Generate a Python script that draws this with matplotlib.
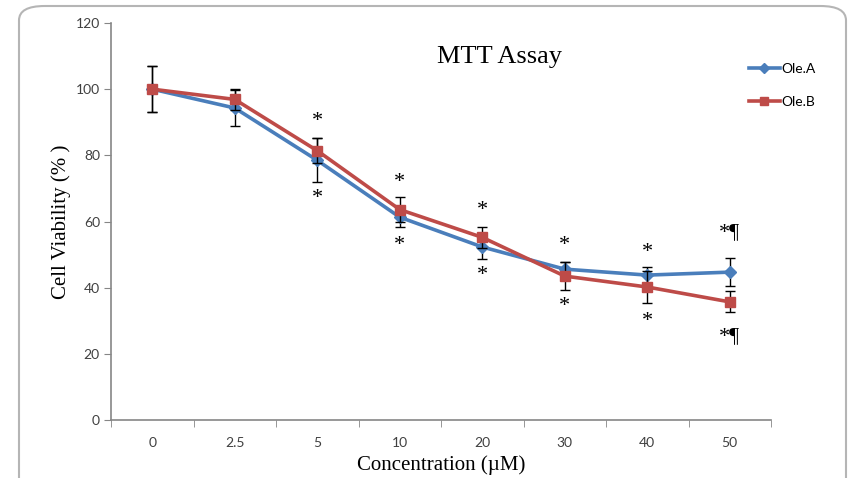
import numpy as np
import matplotlib.pyplot as plt
from matplotlib.patches import FancyBboxPatch
from matplotlib.lines import Line2D

# values
conc = ['0', '2.5', '5', '10', '20', '30', '40', '50']
ole_a = [100, 94.3, 78.5, 61.3, 52.3, 45.6, 43.8, 44.7]
ole_a_err = [7, 5.5, 6.6, 3.0, 3.7, 2.1, 2.5, 4.3]
ole_b = [100, 96.9, 81.4, 63.6, 55.2, 43.5, 40.2, 35.7]
ole_b_err = [7, 3.2, 3.8, 3.7, 3.1, 4.3, 4.8, 3.2]

# significance marks: (category index, y value, text)
marks_above = [(2, 90.2, '*'), (3, 71.8, '*'), (4, 63.4, '*'), (5, 52.6, '*'),
               (6, 50.5, '*'), (7, 56.5, '*¶')]
marks_below = [(2, 67.0, '*'), (3, 52.6, '*'), (4, 43.6, '*'), (5, 34.3, '*'),
               (6, 29.8, '*'), (7, 25.2, '*¶')]

blue = '#4A7EBB'
red = '#BE4B48'
grey = '#868686'

fig = plt.figure(figsize=(8.56, 4.78), dpi=100)
ax = fig.add_axes([0.1297, 0.1213, 0.771, 0.8306])

# rounded frame around the whole picture
frame = FancyBboxPatch((19 / 856, -0.1), (846 - 19) / 856, 1.1 - 6 / 478,
                       boxstyle='round,pad=0,rounding_size=0.03',
                       transform=fig.transFigure, fill=False,
                       edgecolor='#b5b5b5', linewidth=1.5, zorder=0)
fig.patches.append(frame)

x = np.arange(len(conc))
ax.errorbar(x, ole_a, yerr=ole_a_err, color=blue, lw=2.6, marker='D', ms=6.5,
            ecolor='black', elinewidth=1, capsize=3.5, capthick=1, zorder=3)
ax.errorbar(x, ole_b, yerr=ole_b_err, color=red, lw=2.6, marker='s', ms=7,
            ecolor='black', elinewidth=1, capsize=3.5, capthick=1, zorder=4)

for i, y, t in marks_above + marks_below:
    ax.text(i, y, t, ha='center', va='center', fontsize=16,
            family=['Liberation Serif', 'DejaVu Serif'])

ax.set_xlim(-0.5, len(conc) - 0.5)
ax.set_ylim(0, 120)
ax.set_yticks(range(0, 121, 20))
ax.set_xticks(x)
ax.set_xticklabels(conc)
ax.set_xticks(np.arange(-0.5, len(conc)), minor=True)
ax.tick_params(axis='x', which='major', length=0, pad=12)
ax.tick_params(axis='x', which='minor', length=5, color=grey)
ax.tick_params(axis='y', length=5, color=grey, pad=3)
for lab in ax.get_xticklabels() + ax.get_yticklabels():
    lab.set_family('Lato')
    lab.set_fontsize(10)
    lab.set_color('#404040')

for s in ['top', 'right']:
    ax.spines[s].set_visible(False)
for s in ['left', 'bottom']:
    ax.spines[s].set_color(grey)
    ax.spines[s].set_linewidth(1.2)

ax.set_xlabel('Concentration (µM)', fontsize=15, family='Liberation Serif', labelpad=5)
ax.set_ylabel('Cell Viability (% )', fontsize=15, family='Liberation Serif', labelpad=3)
ax.text(0.588, 0.915, 'MTT Assay', transform=ax.transAxes, ha='center', va='center',
        fontsize=19, family='Liberation Serif')

handles = [Line2D([], [], color=blue, lw=2.6, marker='D', ms=5),
           Line2D([], [], color=red, lw=2.6, marker='s', ms=6)]
ax.legend(handles, ['Ole.A', 'Ole.B'], loc='upper left', bbox_to_anchor=(0.948, 0.93),
          frameon=False, handlelength=2.2, handletextpad=0.1, labelspacing=1.5,
          prop={'family': 'Lato', 'size': 10})

fig.savefig('out.png', dpi=100)
